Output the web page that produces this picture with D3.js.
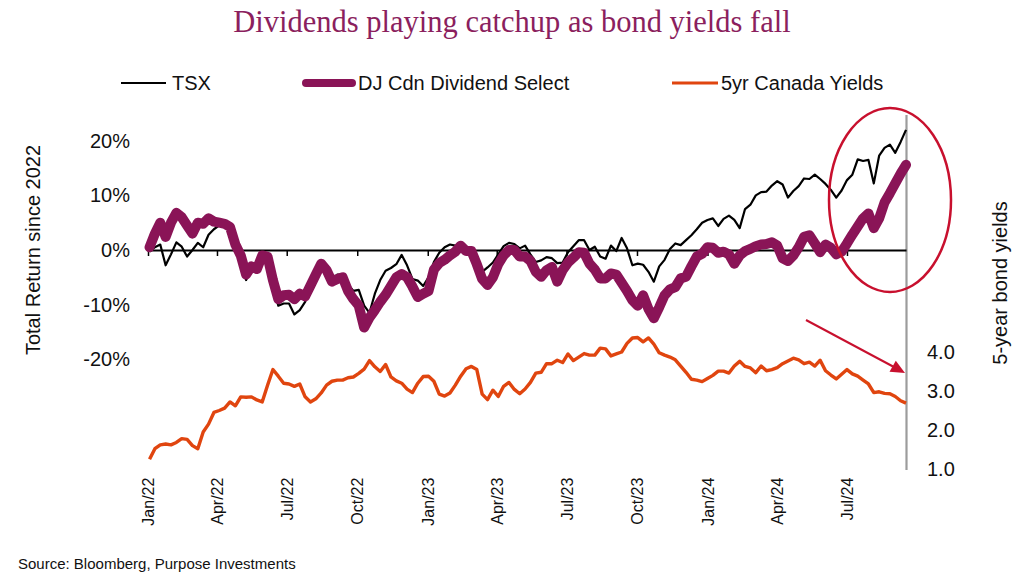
<!DOCTYPE html>
<html>
<head>
<meta charset="utf-8">
<script src="https://cdn.jsdelivr.net/npm/d3@7"></script>
<style>
  html, body { margin: 0; padding: 0; background: #fff; }
  svg { display: block; }
  text { font-family: "Liberation Sans", Arial, sans-serif; fill: #111; }
</style>
</head>
<body>
<svg id="chart" width="1024" height="580"></svg>
<script>
// ---------- DATA (weekly, Mondays from 2022-01-03 to 2024-09-16) ----------
const firstWeek = "2022-01-03";
const lastWeek = "2024-09-16";

const tsxReturn = [
  -0.3, 0.5, 1.0, -2.8, -0.8, 1.4, 0.6, -1.2, 0.0, 1.3,
  0.5, 2.8, 3.8, 4.5, 4.6, 3.8, 0.0, -1.5, -5.5, -3.2,
  -4.0, -1.8, -2.2, -6.5, -10.2, -9.8, -9.8, -11.8, -11.0, -9.5,
  -6.5, -4.5, -2.8, -3.5, -5.5, -4.5, -4.5, -6.3, -7.5, -7.3,
  -10.2, -11.5, -8.0, -5.5, -3.8, -3.3, -2.6, -0.9, -2.8, -5.3,
  -5.6, -6.6, -5.0, -2.2, -0.5, 0.5, 1.0, 0.8, 0.8, 0.6,
  -1.0, -2.8, -4.0, -3.2, -2.3, -0.8, 0.7, 1.3, 1.1, 0.3,
  0.8, -0.8, -2.2, -1.9, -1.3, -1.5, -2.4, -2.3, -0.4, 0.7,
  1.8, 1.8, 0.0, 0.6, -1.2, -1.6, 0.8, -0.2, 2.2, 0.3,
  -2.8, -2.5, -2.7, -4.0, -5.8, -3.0, -1.8, 0.2, 1.2, 0.9,
  1.8, 2.7, 3.8, 5.0, 5.5, 5.8, 4.4, 5.7, 6.3, 5.5,
  4.0, 7.5, 8.3, 10.0, 10.6, 10.7, 11.8, 12.6, 12.0, 9.6,
  10.8, 11.7, 13.1, 13.0, 13.8, 13.0, 12.1, 11.0, 9.6, 10.9,
  12.8, 13.8, 16.6, 16.3, 16.5, 12.2, 17.3, 18.7, 19.3, 17.8,
  19.8, 22.0
];

const djDividendReturn = [
  0.5, 3.0, 5.0, 2.4, 5.0, 6.8, 6.0, 4.5, 3.0, 5.0,
  4.8, 5.8, 5.2, 5.0, 4.8, 4.2, 1.0, -1.0, -4.5, -3.0,
  -3.5, -1.0, -1.2, -5.5, -9.0, -8.3, -8.2, -9.0, -8.0, -8.5,
  -6.5, -4.5, -2.5, -3.7, -5.8, -5.3, -5.0, -7.5, -9.0, -10.2,
  -14.2, -12.4, -11.0, -9.5, -8.2, -6.6, -5.0, -4.4, -5.0, -6.7,
  -8.6, -8.0, -7.5, -3.6, -2.4, -1.8, -1.0, -0.3, 0.8, -0.2,
  -0.2, -2.6, -5.3, -6.4, -5.0, -2.6, -1.0, 0.0, 0.0, -1.2,
  -1.2, -2.0, -4.0, -4.9, -3.7, -3.1, -5.8, -3.7, -2.3, -1.4,
  -0.4, -0.5, -2.5, -3.6, -5.2, -5.2, -4.3, -4.5, -6.0, -7.5,
  -9.2, -10.2, -8.3, -10.8, -12.5, -10.5, -8.3, -7.2, -6.8, -5.2,
  -4.9, -3.0, -1.2, -0.7, 0.5, 0.4, -0.5, -0.3, -0.8, -2.5,
  -1.0, -0.2, 0.2, 0.7, 1.0, 1.1, 1.4, 0.8, -1.5, -2.0,
  -1.0, 0.5, 2.4, 2.7, 1.2, -0.4, 1.0, 0.4, -0.8, -0.3,
  1.2, 2.8, 4.3, 5.8, 6.7, 4.0, 5.8, 8.7, 10.4, 12.2,
  14.0, 15.6
];

const canada5yYield = [
  1.25, 1.52, 1.62, 1.64, 1.62, 1.68, 1.78, 1.76, 1.60, 1.52,
  1.95, 2.15, 2.45, 2.50, 2.56, 2.72, 2.62, 2.85, 2.84, 2.85,
  2.77, 2.72, 3.15, 3.55, 3.38, 3.20, 3.18, 3.12, 3.18, 2.85,
  2.72, 2.80, 2.95, 3.15, 3.25, 3.28, 3.28, 3.34, 3.36, 3.45,
  3.56, 3.78, 3.62, 3.50, 3.68, 3.36, 3.26, 3.20, 3.05, 2.96,
  3.20, 3.37, 3.38, 3.25, 2.92, 2.87, 2.95, 3.15, 3.38, 3.57,
  3.63, 3.55, 2.92, 2.78, 3.02, 2.86, 3.12, 3.22, 3.04, 2.93,
  3.05, 3.22, 3.46, 3.48, 3.70, 3.70, 3.79, 3.73, 3.95, 3.78,
  3.87, 3.96, 3.92, 3.92, 4.10, 4.08, 3.90, 3.95, 4.00, 4.22,
  4.36, 4.37, 4.26, 4.36, 4.20, 3.98, 3.92, 3.87, 3.80, 3.64,
  3.48, 3.30, 3.28, 3.24, 3.32, 3.40, 3.51, 3.51, 3.46, 3.64,
  3.76, 3.63, 3.59, 3.47, 3.64, 3.52, 3.55, 3.60, 3.70, 3.77,
  3.84, 3.80, 3.70, 3.74, 3.64, 3.79, 3.52, 3.41, 3.31, 3.43,
  3.55, 3.44, 3.38, 3.28, 3.18, 2.96, 2.98, 2.94, 2.93, 2.86,
  2.75, 2.69
];

const xTickLabels = ["Jan/22","Apr/22","Jul/22","Oct/22","Jan/23","Apr/23","Jul/23","Oct/23","Jan/24","Apr/24","Jul/24"];
const leftTicks = [-20, -10, 0, 10, 20];
const rightTicks = [1, 2, 3, 4];
const seriesNames = ["TSX", "DJ Cdn Dividend Select", "5yr Canada Yields"];

// ---------- SETUP ----------
const parse = d3.timeParse("%Y-%m-%d");
const dates = d3.timeMonday.range(parse(firstWeek), d3.timeDay.offset(parse(lastWeek), 1));
const quarterDates = xTickLabels.map(d3.timeParse("%b/%y"));

const C_TSX = "#000000", C_DJ = "#8A1457", C_YLD = "#E0450F", C_RED = "#C8102E", C_TITLE = "#8B1F5E";

const svg = d3.select("#chart");

const x = d3.scaleTime().domain([parse("2022-01-01"), parse(lastWeek)]).range([148, 906]);
const yL = d3.scaleLinear().domain([-40, 25]).range([468.4, 113.5]);
const yR = d3.scaleLinear().domain([1, 10]).range([469, 118]);

// Title
svg.append("text").attr("x", 512).attr("y", 32).attr("text-anchor", "middle")
  .style("font-family", "'Liberation Serif', 'Times New Roman', serif")
  .style("font-size", "30.5px").style("fill", C_TITLE)
  .text("Dividends playing catchup as bond yields fall");

// Legend
const legend = [
  {name: seriesNames[0], color: C_TSX, w: 2.2, x1: 121, x2: 166, tx: 172},
  {name: seriesNames[1], color: C_DJ, w: 8, x1: 306, x2: 352, tx: 358},
  {name: seriesNames[2], color: C_YLD, w: 3, x1: 672, x2: 718, tx: 721}
];
const lg = svg.append("g");
legend.forEach(l => {
  lg.append("line").attr("x1", l.x1).attr("x2", l.x2).attr("y1", 83).attr("y2", 83)
    .attr("stroke", l.color).attr("stroke-width", l.w).attr("stroke-linecap", l.w > 5 ? "round" : "butt");
  lg.append("text").attr("x", l.tx).attr("y", 90).style("font-size", "20px").text(l.name);
});

// Left axis labels
const gL = svg.append("g").attr("transform", "translate(134,0)")
  .call(d3.axisLeft(yL).tickValues(leftTicks).tickFormat(d => d + "%").tickSize(0).tickPadding(4));
gL.select(".domain").remove();
gL.selectAll("text").style("font-size", "20px").style("font-family", "'Liberation Sans', Arial, sans-serif").attr("fill", "#111");

// Right axis labels
const gR = svg.append("g").attr("transform", "translate(906,0)")
  .call(d3.axisRight(yR).tickValues(rightTicks).tickFormat(d3.format(".1f")).tickSize(0).tickPadding(21));
gR.select(".domain").remove();
gR.selectAll("text").style("font-size", "20px").style("font-family", "'Liberation Sans', Arial, sans-serif").attr("fill", "#111");

// Axis titles
svg.append("text").attr("transform", "translate(40,250) rotate(-90)").attr("text-anchor", "middle")
  .style("font-size", "20px").text("Total Return since 2022");
svg.append("text").attr("transform", "translate(1007,283) rotate(-90)").attr("text-anchor", "middle")
  .style("font-size", "20px").text("5-year bond yields");

// X labels (rotated)
const gX = svg.append("g").attr("transform", "translate(0,476)")
  .call(d3.axisBottom(x).tickValues(quarterDates).tickFormat(d3.timeFormat("%b/%y")).tickSize(0));
gX.select(".domain").remove();
gX.selectAll(".tick text").attr("transform", "rotate(-90)").attr("text-anchor", "end")
  .attr("x", 0).attr("y", 0).attr("dy", "0.35em").attr("dx", "-0.1em")
  .style("font-size", "16px").style("font-family", "'Liberation Sans', Arial, sans-serif").attr("fill", "#111");

// Right gray axis line
svg.append("line").attr("x1", 906.5).attr("x2", 906.5).attr("y1", 115).attr("y2", 470)
  .attr("stroke", "#9c9c9c").attr("stroke-width", 2.2);

// Series
const lineL = d3.line().x((d, i) => x(dates[i])).y(d => yL(d));
const lineR = d3.line().x((d, i) => x(dates[i])).y(d => yR(d));

svg.append("path").datum(canada5yYield).attr("d", lineR).attr("fill", "none")
  .attr("stroke", C_YLD).attr("stroke-width", 3.4).attr("stroke-linejoin", "round");

// Zero line with quarter ticks
const gZ = svg.append("g").attr("transform", `translate(0,${yL(0)})`)
  .call(d3.axisBottom(x).tickValues(quarterDates).tickFormat("").tickSize(6).tickSizeOuter(0));
gZ.select(".domain").attr("stroke", "#000").attr("stroke-width", 2);
gZ.selectAll(".tick line").attr("stroke", "#000").attr("stroke-width", 1.5);

svg.append("path").datum(tsxReturn).attr("d", lineL).attr("fill", "none")
  .attr("stroke", C_TSX).attr("stroke-width", 2.2).attr("stroke-linejoin", "round");

svg.append("path").datum(djDividendReturn).attr("d", lineL).attr("fill", "none")
  .attr("stroke", C_DJ).attr("stroke-width", 10).attr("stroke-linejoin", "round").attr("stroke-linecap", "round");

// Annotations: ellipse and arrow
svg.append("ellipse").attr("cx", 890).attr("cy", 200).attr("rx", 61).attr("ry", 92)
  .attr("fill", "none").attr("stroke", C_RED).attr("stroke-width", 2.5);
svg.append("line").attr("x1", 806).attr("y1", 320).attr("x2", 893).attr("y2", 366.5)
  .attr("stroke", C_RED).attr("stroke-width", 2);
svg.append("path").attr("d", "M905,373 L889.5,371.8 L895.8,360.8 Z").attr("fill", C_RED);

// Source
svg.append("text").attr("x", 18).attr("y", 569).style("font-size", "15px")
  .text("Source: Bloomberg, Purpose Investments");
</script>
</body>
</html>
